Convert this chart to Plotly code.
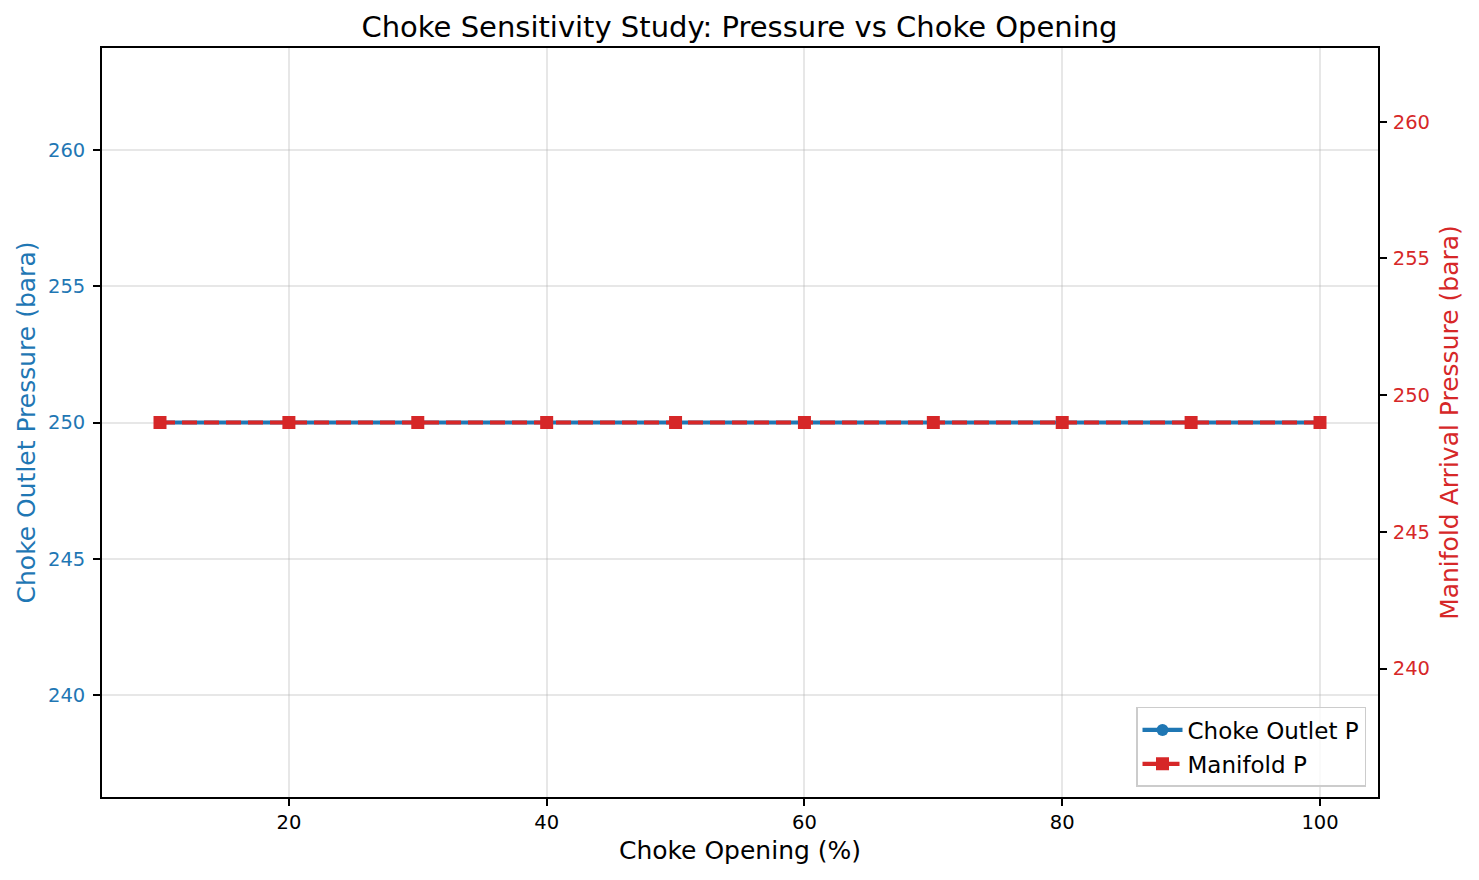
import plotly.graph_objects as go

choke_opening = [10, 20, 30, 40, 50, 60, 70, 80, 90, 100]
choke_outlet_p = [250, 250, 250, 250, 250, 250, 250, 250, 250, 250]
manifold_p = [249, 249, 249, 249, 249, 249, 249, 249, 249, 249]
y_ticks = [240, 245, 250, 255, 260]
x_ticks = [20, 40, 60, 80, 100]

BLUE = "#1f77b4"
RED = "#d62728"
FONT = "DejaVu Sans"
GRID = "rgba(176,176,176,0.3)"

fig = go.Figure()
fig.add_trace(go.Scatter(
    x=choke_opening, y=choke_outlet_p, name="Choke Outlet P", legendgroup="a",
    mode="lines+markers", line=dict(color=BLUE, width=4.2),
    marker=dict(symbol="circle", size=12, color=BLUE), yaxis="y"))
fig.add_trace(go.Scatter(
    x=choke_opening, y=manifold_p, name="Manifold P", legendgroup="b",
    mode="lines+markers", line=dict(color=RED, width=4.2, dash="15px,7px"),
    marker=dict(symbol="square", size=13, color=RED), yaxis="y2"))

fig.update_layout(
    width=1479, height=880,
    margin=dict(l=102, r=101, t=48, b=83),
    paper_bgcolor="white", plot_bgcolor="white",
    font=dict(family=FONT, size=19.5, color="black"),
    title=dict(text="Choke Sensitivity Study: Pressure vs Choke Opening",
               x=0.5, xanchor="center", y=1 - 27/880, yanchor="middle",
               font=dict(size=29, color="black")),
    xaxis=dict(range=[5.5, 104.5], tickvals=x_ticks,
               showgrid=True, gridcolor=GRID, gridwidth=1.5,
               showline=True, linecolor="black", linewidth=1.7, mirror=True,
               ticks="outside", ticklen=7, tickwidth=1.5, tickcolor="black",
               ticklabelstandoff=0,
               title=dict(text="Choke Opening (%)", font=dict(size=25), standoff=8),
               zeroline=False),
    yaxis=dict(range=[236.25, 263.75], tickvals=y_ticks,
               showgrid=True, gridcolor=GRID, gridwidth=1.5,
               showline=True, linecolor="black", linewidth=1.7,
               ticks="outside", ticklen=7, tickwidth=1.5, tickcolor="black",
               ticklabelstandoff=4,
               tickfont=dict(color=BLUE),
               title=dict(text="Choke Outlet Pressure (bara)", font=dict(size=25, color=BLUE), standoff=5),
               zeroline=False),
    yaxis2=dict(range=[235.305, 262.695], tickvals=y_ticks,
                overlaying="y", side="right", showgrid=False,
                showline=True, linecolor="black", linewidth=1.7,
                ticks="outside", ticklen=7, tickwidth=1.5, tickcolor="black",
                ticklabelstandoff=2,
                tickfont=dict(color=RED),
                title=dict(text="Manifold Arrival Pressure (bara)", font=dict(size=25, color=RED), standoff=12),
                zeroline=False),
    legend=dict(x=0.9906, y=0.0134, xanchor="right", yanchor="bottom",
                bgcolor="rgba(255,255,255,0.8)", bordercolor="#cccccc", borderwidth=1.5,
                font=dict(size=23), itemwidth=40, tracegroupgap=1),
    showlegend=True,
)

fig.write_html("out.html")
